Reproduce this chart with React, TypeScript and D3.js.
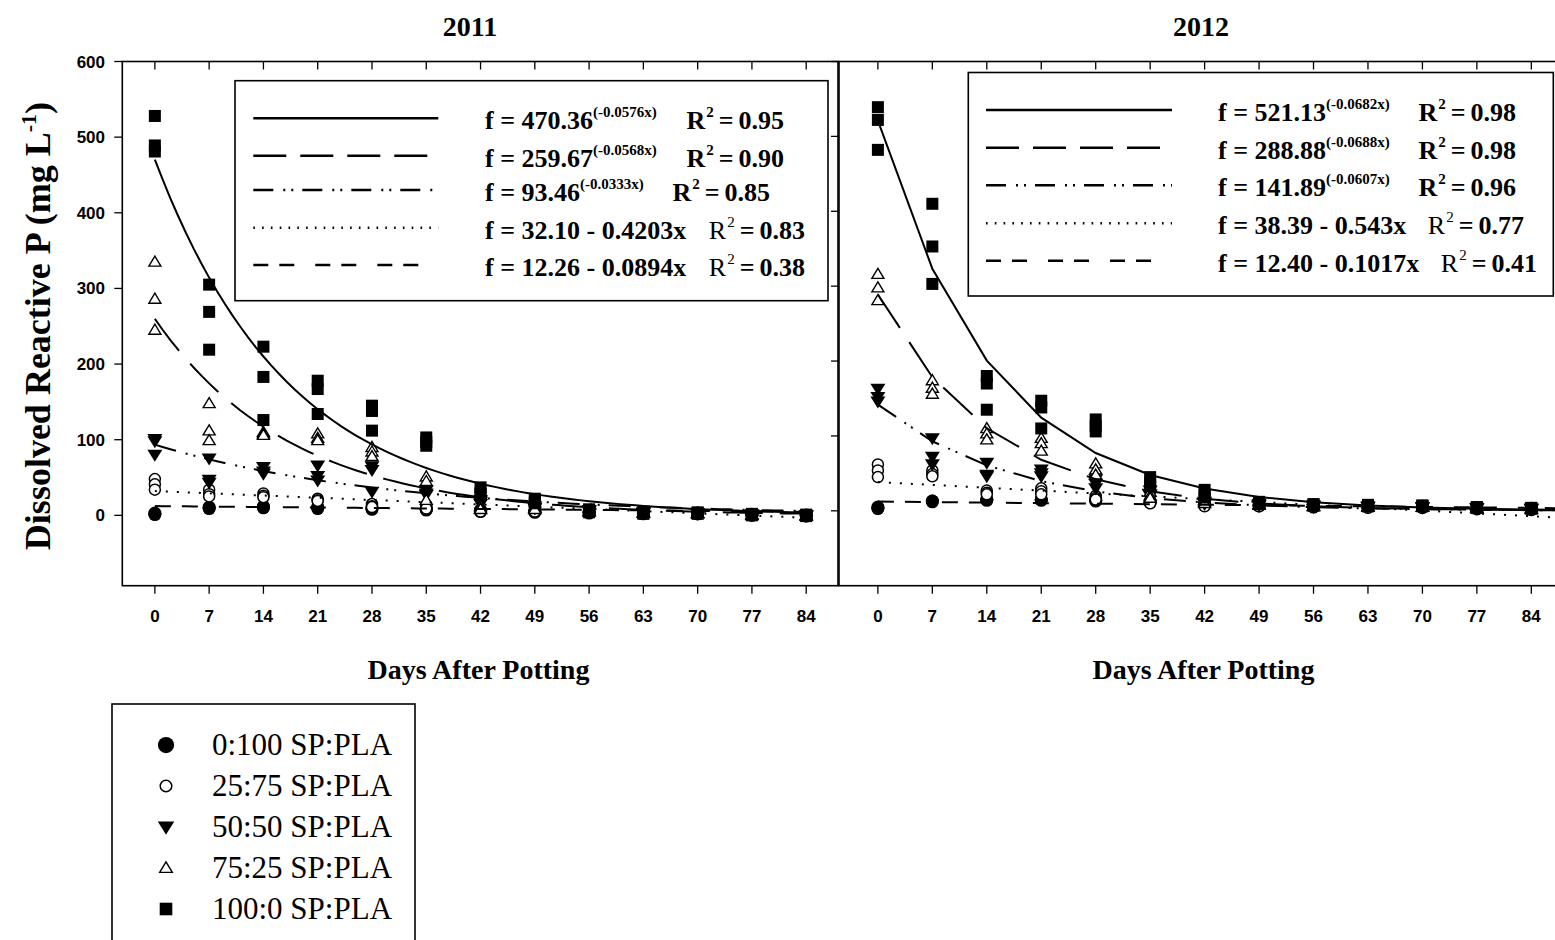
import React from "react";
import * as d3 from "d3";

// ---------------- DATA ----------------
const days = [0, 7, 14, 21, 28, 35, 42, 49, 56, 63, 70, 77, 84];
const xTickLabels = ["0", "7", "14", "21", "28", "35", "42", "49", "56", "63", "70", "77", "84"];
const yTickValues = [0, 100, 200, 300, 400, 500, 600];
const panelTitles = ["2011", "2012"];
const treatments = ["0:100 SP:PLA", "25:75 SP:PLA", "50:50 SP:PLA", "75:25 SP:PLA", "100:0 SP:PLA"];

// 2011 replicates per day (3 per day)
const y2011_0_100 = [[2, 1, 3], [9, 11, 10], [11, 10, 12], [10, 9, 11], [9, 8, 10], [8, 7, 8], [6, 5, 7], [5, 4, 5], [4, 3, 4], [3, 2, 3], [2, 3, 2], [1, 0, 1], [0, -1, 0]];
const y2011_25_75 = [[48, 41, 34], [34, 28, 25], [29, 26, 24], [22, 20, 19], [15, 12, 11], [13, 11, 9], [7, 6, 5], [7, 6, 5], [5, 4, 4], [3, 3, 2], [3, 2, 2], [1, 1, 0], [0, 0, -1]];
const y2011_50_50 = [[101, 80, 98], [75, 47, 43], [64, 58, 55], [66, 52, 46], [65, 60, 31], [33, 29, 27], [20, 18, 15], [12, 10, 9], [7, 6, 5], [4, 3, 3], [3, 2, 3], [1, 1, 0], [0, -1, 0]];
const y2011_75_25 = [[335, 286, 245], [148, 112, 99], [110, 108, 106], [108, 102, 99], [90, 84, 78], [51, 45, 20], [12, 9, 8], [10, 9, 8], [6, 5, 5], [4, 3, 3], [3, 3, 2], [1, 1, 0], [0, 0, -1]];
const y2011_100_0 = [[528, 489, 481], [305, 269, 219], [223, 183, 126], [178, 167, 134], [145, 138, 112], [103, 97, 92], [37, 30, 28], [22, 18, 16], [8, 6, 4], [5, 3, 2], [4, 3, 2], [2, 1, 0], [1, 0, -1]];

// 2012 replicates per day
const y2012_0_100 = [[4, 5, 3], [13, 12, 13], [15, 14, 15], [14, 15, 15], [13, 14, 14], [12, 11, 12], [9, 8, 9], [8, 7, 8], [6, 6, 5], [6, 5, 6], [5, 6, 5], [4, 3, 4], [3, 2, 3]];
const y2012_25_75 = [[62, 54, 45], [54, 49, 46], [27, 24, 22], [30, 26, 22], [20, 17, 15], [13, 11, 10], [8, 7, 6], [7, 6, 6], [6, 5, 5], [5, 5, 4], [5, 4, 4], [3, 3, 2], [2, 2, 1]];
const y2012_50_50 = [[163, 152, 146], [97, 72, 62], [64, 48, 46], [55, 50, 46], [42, 36, 30], [27, 22, 20], [12, 10, 9], [9, 8, 7], [7, 6, 6], [6, 5, 5], [5, 5, 4], [4, 3, 3], [3, 2, 2]];
const y2012_75_25 = [[316, 298, 281], [174, 164, 156], [110, 103, 95], [97, 90, 80], [63, 55, 48], [25, 20, 17], [14, 12, 10], [9, 8, 8], [7, 6, 6], [6, 6, 5], [5, 5, 5], [4, 4, 3], [3, 3, 2]];
const y2012_100_0 = [[539, 522, 482], [410, 353, 303], [180, 170, 135], [147, 138, 110], [122, 113, 106], [45, 38, 33], [28, 22, 18], [12, 10, 9], [9, 8, 7], [8, 7, 6], [7, 7, 6], [5, 4, 4], [4, 3, 3]];

// Regression fits (order: 100:0, 75:25, 50:50, 25:75, 0:100)
const fitType = ["exp", "exp", "exp", "lin", "lin"];
const fit2011A = [470.36, 259.67, 93.46, 32.10, 12.26];
const fit2011B = [-0.0576, -0.0568, -0.0333, -0.4203, -0.0894];
const fit2012A = [521.13, 288.88, 141.89, 38.39, 12.40];
const fit2012B = [-0.0682, -0.0688, -0.0607, -0.543, -0.1017];
const eq2011Main = ["f = 470.36", "f = 259.67", "f = 93.46", "f = 32.10 - 0.4203x", "f = 12.26 - 0.0894x"];
const eq2011Sup = ["(-0.0576x)", "(-0.0568x)", "(-0.0333x)", "", ""];
const r2_2011 = ["0.95", "0.90", "0.85", "0.83", "0.38"];
const eq2012Main = ["f = 521.13", "f = 288.88", "f = 141.89", "f = 38.39 - 0.543x", "f = 12.40 - 0.1017x"];
const eq2012Sup = ["(-0.0682x)", "(-0.0688x)", "(-0.0607x)", "", ""];
const r2_2012 = ["0.98", "0.98", "0.96", "0.77", "0.41"];

// ---------------- STYLE ----------------
const SERIF = "'Liberation Serif', 'Times New Roman', serif";
const SANS = "'Liberation Sans', Arial, sans-serif";
const legendDash = ["", "33,14", "20,10,2,6,2,9", "1.6,7.2", "15,11,15,21"];
const plotDash = ["", "40,17", "22,10,2,6,2,9", "2,9", "16,11,16,21"];

type Shape = "fcircle" | "ocircle" | "tdown" | "tup" | "square";
const shapes: Shape[] = ["fcircle", "ocircle", "tdown", "tup", "square"];

function Marker({ shape, x, y, s = 1 }: { shape: Shape; x: number; y: number; s?: number }) {
  switch (shape) {
    case "fcircle":
      return <circle cx={x} cy={y} r={6.5 * s} fill="#000" />;
    case "ocircle":
      return <circle cx={x} cy={y} r={5.5 * s} fill="#fff" stroke="#000" strokeWidth={1.5} />;
    case "tdown": {
      const w = 7.5 * s, h = 12 * s;
      return <path d={`M${x - w},${y - h * 0.42}L${x + w},${y - h * 0.42}L${x},${y + h * 0.58}Z`} fill="#000" />;
    }
    case "tup": {
      const w = 6 * s, h = 10 * s;
      return <path d={`M${x - w},${y + h * 0.42}L${x + w},${y + h * 0.42}L${x},${y - h * 0.58}Z`} fill="#fff" stroke="#000" strokeWidth={1.4} />;
    }
    case "square":
      return <rect x={x - 6 * s} y={y - 6 * s} width={12 * s} height={12 * s} fill="#000" />;
  }
}

function fitValue(type: string, a: number, b: number, x: number) {
  return type === "exp" ? a * Math.exp(b * x) : a + b * x;
}

type PanelProps = {
  x: d3.ScaleLinear<number, number>;
  y: d3.ScaleLinear<number, number>;
  series: number[][][];
  fitA: number[];
  fitB: number[];
  step: number;
  xMax: number;
  clipId: string;
  frameX0: number;
  frameX1: number;
};

const TOP = 61.5;
const BOTTOM = 585.7;

function Panel({ x, y, series, fitA, fitB, step, xMax, clipId, frameX0, frameX1 }: PanelProps) {
  const line = d3.line<[number, number]>().x((d) => x(d[0])).y((d) => y(d[1]));
  const curveDays = d3.range(0, xMax + 0.001, step);
  return (
    <g>
      <defs>
        <clipPath id={clipId}>
          <rect x={frameX0} y={TOP} width={frameX1 - frameX0} height={BOTTOM - TOP} />
        </clipPath>
      </defs>
      <g>
        {series.map((s, ti) =>
          s.map((reps, di) =>
            reps.map((v, ri) => <Marker key={`${ti}-${di}-${ri}`} shape={shapes[ti]} x={x(days[di])} y={y(v)} />)
          )
        )}
      </g>
      <g clipPath={`url(#${clipId})`}>
        {fitA.map((a, i) => (
          <path
            key={i}
            d={line(curveDays.map((d) => [d, fitValue(fitType[i], a, fitB[i], d)] as [number, number])) || ""}
            fill="none"
            stroke="#000"
            strokeWidth={2}
            strokeDasharray={plotDash[i] || undefined}
          />
        ))}
      </g>
      {days.map((d) => (
        <g key={d}>
          <line x1={x(d)} x2={x(d)} y1={TOP} y2={TOP + 8} stroke="#000" strokeWidth={1.3} />
          <line x1={x(d)} x2={x(d)} y1={BOTTOM} y2={BOTTOM + 8} stroke="#000" strokeWidth={1.3} />
        </g>
      ))}
      {yTickValues.map((v) => (
        <line key={v} x1={frameX0 - 8} x2={frameX0} y1={y(v)} y2={y(v)} stroke="#000" strokeWidth={1.3} />
      ))}
      {days.map((d, i) => (
        <text key={d} x={x(d)} y={621.5} textAnchor="middle" fontFamily={SANS} fontWeight="bold" fontSize={17}>
          {xTickLabels[i]}
        </text>
      ))}
      <rect x={frameX0} y={TOP} width={frameX1 - frameX0} height={BOTTOM - TOP} fill="none" stroke="#000" strokeWidth={1.6} />
    </g>
  );
}

function EqLegend({
  bx, by, bw, bh, lx0, lx1, lineYs, tx, mains, sups, r2s, rEnds,
}: {
  bx: number; by: number; bw: number; bh: number; lx0: number; lx1: number; lineYs: number[];
  tx: number; mains: string[]; sups: string[]; r2s: string[]; rEnds: number[];
}) {
  return (
    <g>
      <rect x={bx} y={by} width={bw} height={bh} fill="#fff" stroke="#000" strokeWidth={1.6} />
      {lineYs.map((ly, i) => (
        <g key={i}>
          <line x1={lx0} x2={lx1} y1={ly} y2={ly} stroke="#000" strokeWidth={2.6} strokeDasharray={legendDash[i] || undefined} />
          <text x={tx} y={ly + 11} fontFamily={SERIF} fontWeight="bold" fontSize={26}>
            <tspan>{mains[i]}</tspan>
            {sups[i] ? <tspan fontSize={15} dy={-12}>{sups[i]}</tspan> : null}
          </text>
          <text x={rEnds[i]} y={ly + 11} textAnchor="end" fontFamily={SERIF} fontWeight="bold" fontSize={26}>
            <tspan fontWeight={sups[i] ? "bold" : "normal"}>R</tspan>
            <tspan fontSize={15} dy={-12} dx={1} fontWeight={sups[i] ? "bold" : "normal"}>2</tspan>
            <tspan dy={12} dx={5}>=</tspan>
            <tspan dx={5}>{r2s[i]}</tspan>
          </text>
        </g>
      ))}
    </g>
  );
}

export default function App() {
  const xL = d3.scaleLinear().domain([-4.2, 88.1]).range([122.3, 838]);
  const yL = d3.scaleLinear().domain([-93, 600]).range([BOTTOM, TOP]);
  const xR = d3.scaleLinear().domain([-5, 90]).range([839, 1578]);
  const yR = d3.scaleLinear().domain([-100, 600]).range([BOTTOM, TOP]);

  const s2011 = [y2011_0_100, y2011_25_75, y2011_50_50, y2011_75_25, y2011_100_0];
  const s2012 = [y2012_0_100, y2012_25_75, y2012_50_50, y2012_75_25, y2012_100_0];

  return (
    <svg
      width={1555}
      height={940}
      viewBox="0 0 1555 940"
      style={{ position: "absolute", left: 0, top: 0, display: "block", background: "#fff" }}
    >
      <rect x={0} y={0} width={1555} height={940} fill="#fff" />
      <text x={470} y={35.7} textAnchor="middle" fontFamily={SERIF} fontWeight="bold" fontSize={28}>{panelTitles[0]}</text>
      <text x={1201} y={35.7} textAnchor="middle" fontFamily={SERIF} fontWeight="bold" fontSize={28}>{panelTitles[1]}</text>

      <Panel x={xL} y={yL} series={s2011} fitA={fit2011A} fitB={fit2011B} step={1} xMax={84} clipId="clipL" frameX0={122.3} frameX1={838} />
      <Panel x={xR} y={yR} series={s2012} fitA={fit2012A} fitB={fit2012B} step={7} xMax={91} clipId="clipR" frameX0={839} frameX1={1578} />

      {yTickValues.map((v) => (
        <text key={v} x={105} y={yL(v) + 6} textAnchor="end" fontFamily={SANS} fontWeight="bold" fontSize={17}>{v}</text>
      ))}

      <text transform="translate(50,326) rotate(-90)" textAnchor="middle" fontFamily={SERIF} fontWeight="bold" fontSize={36}>
        <tspan>Dissolved Reactive P (mg L</tspan>
        <tspan fontSize={22} dy={-14}>-1</tspan>
        <tspan dy={14}>)</tspan>
      </text>

      <text x={478.5} y={679} textAnchor="middle" fontFamily={SERIF} fontWeight="bold" fontSize={28}>Days After Potting</text>
      <text x={1203.5} y={679} textAnchor="middle" fontFamily={SERIF} fontWeight="bold" fontSize={28}>Days After Potting</text>

      <EqLegend
        bx={235} by={80.7} bw={593} bh={220} lx0={253.3} lx1={438.3}
        lineYs={[118.3, 155.7, 190, 227.7, 265]} tx={485}
        mains={eq2011Main} sups={eq2011Sup} r2s={r2_2011} rEnds={[784, 784, 770, 805, 805]}
      />
      <EqLegend
        bx={968.3} by={72.5} bw={585} bh={223.5} lx0={986} lx1={1172}
        lineYs={[110, 147.7, 185.3, 223.3, 260.7]} tx={1218}
        mains={eq2012Main} sups={eq2012Sup} r2s={r2_2012} rEnds={[1516, 1516, 1516, 1524, 1537]}
      />

      <g>
        <rect x={112} y={704} width={303} height={260} fill="#fff" stroke="#000" strokeWidth={1.6} />
        {treatments.map((t, i) => {
          const cy = 745 + i * 41;
          return (
            <g key={t}>
              <Marker shape={shapes[i]} x={166} y={cy} s={i === 0 ? 1.25 : i === 2 ? 1.1 : 1.05} />
              <text x={212} y={cy + 10} fontFamily={SERIF} fontSize={31}>{t}</text>
            </g>
          );
        })}
      </g>
    </svg>
  );
}
